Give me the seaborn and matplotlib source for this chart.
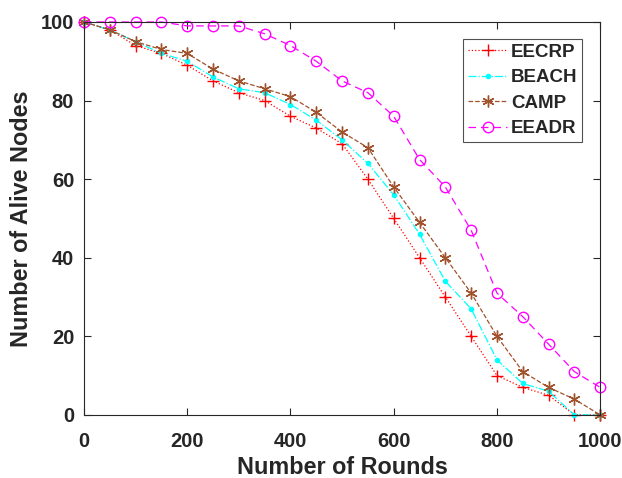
import matplotlib
matplotlib.use('Agg')
import matplotlib.pyplot as plt
import seaborn as sns
import pandas as pd

# Data
rounds = list(range(0, 1001, 50))
eecrp = [100, 98, 94, 92, 89, 85, 82, 80, 76, 73, 69, 60, 50, 40, 30, 20, 10, 7, 5, 0, 0]
beach = [100, 98, 95, 92, 90, 86, 83, 82, 79, 75, 70, 64, 56, 46, 34, 27, 14, 8, 6, 0, 0]
camp = [100, 98, 95, 93, 92, 88, 85, 83, 81, 77, 72, 68, 58, 49, 40, 31, 20, 11, 7, 4, 0]
eeadr = [100, 100, 100, 100, 99, 99, 99, 97, 94, 90, 85, 82, 76, 65, 58, 47, 31, 25, 18, 11, 7]

sns.set_style('white')
plt.rcParams['font.family'] = ['Liberation Sans', 'DejaVu Sans']

fig = plt.figure(figsize=(6.22, 4.78), dpi=100)
ax = fig.add_axes([0.135, 0.132, 0.83, 0.822])

series = [
    ('EECRP', eecrp, dict(color='red', linestyle=':', marker='+', markersize=8,
                          markeredgewidth=1.0, linewidth=0.9)),
    ('BEACH', beach, dict(color='cyan', linestyle='-.', marker='.', markersize=6,
                          markeredgewidth=1.0, linewidth=0.9)),
    ('CAMP', camp, dict(color='#a0522d', linestyle='--', marker=(6, 2, 0), markersize=8.5,
                        markeredgewidth=1.0, linewidth=0.9)),
    ('EEADR', eeadr, dict(color='magenta', linestyle=(0, (6, 4)), marker='o', markersize=7.5,
                          markerfacecolor='none', markeredgewidth=1.0, linewidth=0.9)),
]

for name, vals, kw in series:
    df = pd.DataFrame({'rounds': rounds, 'alive': vals})
    # seaborn defaults marker edges to white, so give them the line colour
    sns.lineplot(data=df, x='rounds', y='alive', ax=ax, label=name,
                 markeredgecolor=kw['color'], clip_on=False, **kw)

ax.set_xlim(0, 1000)
ax.set_ylim(0, 100)
ax.set_xticks(range(0, 1001, 200))
ax.set_yticks(range(0, 101, 20))

ax.set_xlabel('Number of Rounds', fontsize=16.8, fontweight='bold', color='#262626',
              labelpad=4)
ax.set_ylabel('Number of Alive Nodes', fontsize=16.8, fontweight='bold', color='#262626',
              labelpad=6)

for lab in ax.get_xticklabels() + ax.get_yticklabels():
    lab.set_fontweight('bold')
    lab.set_fontsize(14.5)
    lab.set_color('#262626')

ax.tick_params(direction='in', length=5, width=0.8, color='#262626',
               top=True, right=True, bottom=True, left=True)
ax.tick_params(axis='x', pad=12)
ax.tick_params(axis='y', pad=7)
for sp in ax.spines.values():
    sp.set_visible(True)
    sp.set_color('#262626')
    sp.set_linewidth(0.8)

leg = ax.legend(loc='upper right', bbox_to_anchor=(0.965, 0.957), borderaxespad=0,
                fancybox=False, frameon=True, prop={'weight': 'bold', 'size': 13.5},
                handlelength=2.1, borderpad=0.25, labelspacing=0.45, handletextpad=0.2)
leg.get_frame().set_edgecolor('#262626')
leg.get_frame().set_linewidth(0.8)

fig.savefig('out.png', dpi=100)
